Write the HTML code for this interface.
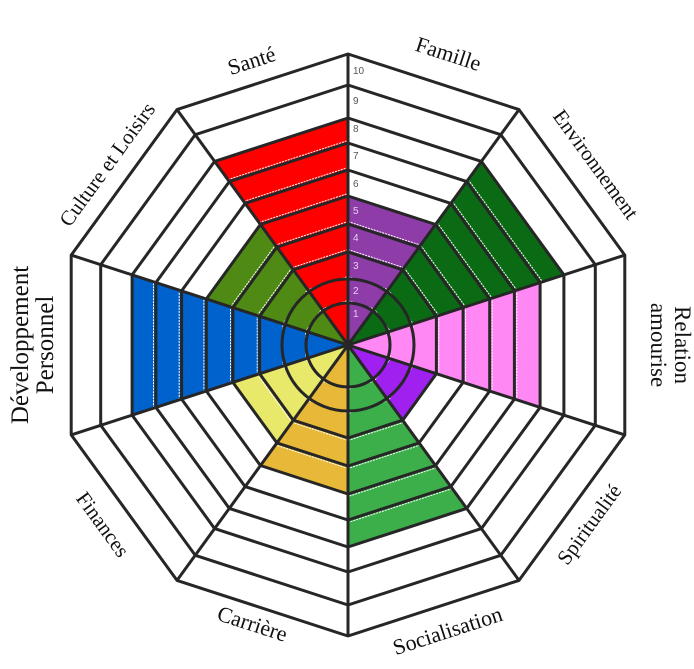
<!DOCTYPE html>
<html><head><meta charset="utf-8"><style>
html,body{margin:0;padding:0;background:#fff;}
svg{display:block;}
text{font-family:"Liberation Serif",serif;fill:#111;}
.n{font-family:"Liberation Sans",sans-serif;font-size:10px;fill:#555;}
</style></head><body>
<svg id="s" width="694" height="669" viewBox="0 0 694 669" xmlns="http://www.w3.org/2000/svg">
<g id="fills"></g>
<g id="rings" fill="none" stroke="#262626" stroke-width="3" stroke-linejoin="round"></g>
<g id="nums"></g>
<text x="252" y="68" font-size="22" text-anchor="middle" transform="rotate(-18 252 62)">Santé</text>
<text x="448" y="61" font-size="22" text-anchor="middle" transform="rotate(18 448 55)">Famille</text>
<text x="595" y="171" font-size="21" text-anchor="middle" transform="rotate(54 595 165)">Environnement</text>
<g transform="rotate(90 668 345)"><text x="668" y="338" font-size="23" text-anchor="middle">Relation</text><text x="668" y="362" font-size="23" text-anchor="middle">amourise</text></g>
<text x="590" y="531" font-size="21" text-anchor="middle" transform="rotate(-54 590 525)">Spiritualité</text>
<text x="448" y="638" font-size="22" text-anchor="middle" transform="rotate(-18 448 632)">Socialisation</text>
<text x="252" y="631" font-size="22" text-anchor="middle" transform="rotate(18 252 625)">Carrière</text>
<text x="102" y="531" font-size="21" text-anchor="middle" transform="rotate(54 102 525)">Finances</text>
<g transform="rotate(-90 36 345)"><text x="36" y="337" font-size="25" text-anchor="middle">Développement</text><text x="36" y="362" font-size="25" text-anchor="middle">Personnel</text></g>
<text x="108" y="171" font-size="21" text-anchor="middle" transform="rotate(-54 108 165)">Culture et Loisirs</text>
</svg>
<script>
var cx=348,cy=345,R=[0,42,66,93,121,149,175,202,227,260,291];
function P(r,d){var a=d*Math.PI/180;return [(cx+r*Math.sin(a)).toFixed(1),(cy-r*Math.cos(a)).toFixed(1)];}
var S=[[5,'#8e3ca8'],[8,'#0b6b14'],[7,'#ff88f4'],[3,'#a020f0'],[7,'#3cae4a'],[5,'#e8b838'],[4,'#e8e86a'],[8,'#0062cc'],[5,'#4f8a14'],[8,'#ff0000']];
var ns='http://www.w3.org/2000/svg',f=document.getElementById('fills'),g=document.getElementById('rings');
function el(p,t,a){var e=document.createElementNS(ns,t);for(var k in a)e.setAttribute(k,a[k]);p.appendChild(e);return e;}
S.forEach(function(s,i){var a=i*36,b=a+36,r=R[s[0]];var p1=P(r,a),p2=P(r,b);
el(f,'polygon',{points:cx+','+cy+' '+p1.join(',')+' '+p2.join(','),fill:s[1]});
for(var k=1;k<s[0];k++){var q1=P(R[k]+2.5,a),q2=P(R[k]+2.5,b);el(f,'line',{x1:q1[0],y1:q1[1],x2:q2[0],y2:q2[1],stroke:'#fff','stroke-width':1,'stroke-dasharray':'2 1'});}
});
for(var k=1;k<=10;k++){
 if(k<=2){el(g,'circle',{cx:cx,cy:cy,r:R[k]});continue;}
 var pts=[];for(var j=0;j<10;j++)pts.push(P(R[k],j*36).join(','));el(g,'polygon',{points:pts.join(' ')});}
for(var j=0;j<10;j++){var p=P(291,j*36);el(g,'line',{x1:cx,y1:cy,x2:p[0],y2:p[1]});}
var ny=[313,290,265,237,210,183,155,128,100,70],nm=document.getElementById('nums');
ny.forEach(function(y,i){var t=el(nm,'text',{x:353,y:y+4,'class':'n'});t.textContent=i+1;if(i<5)t.setAttribute('style','fill:#e6d0f0');});
</script>
</body></html>
